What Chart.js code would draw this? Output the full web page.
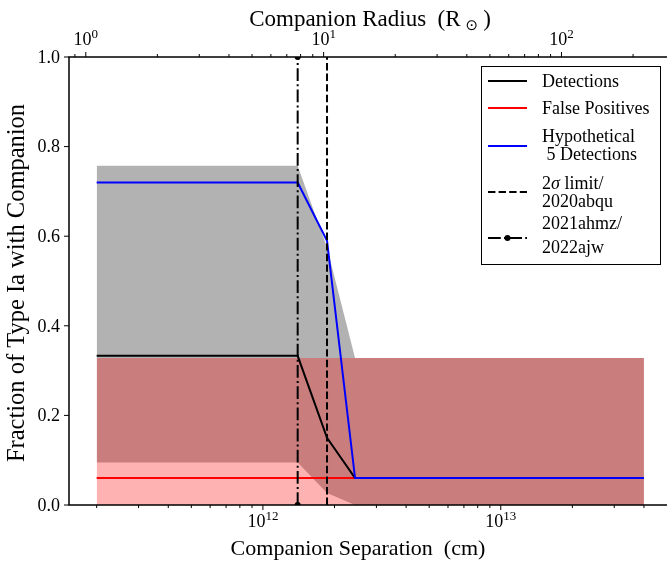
<!DOCTYPE html>
<html>
<head>
<meta charset="utf-8">
<script src="https://cdn.jsdelivr.net/npm/chart.js@4.4.1/dist/chart.umd.min.js"></script>
<style>
  html, body { margin: 0; padding: 0; background: #fff; }
  #wrap { width: 667px; height: 561px; }
</style>
</head>
<body>
<div id="wrap"><canvas id="fraction" width="667" height="561"></canvas></div>
<script>
(function () {
  'use strict';

  var FONT = "'Liberation Serif', 'Times New Roman', serif";

  // ── Data ──────────────────────────────────────────────────────────────
  // companion separation grid (cm), shared by every curve and band
  var separation     = [2e11, 1.4e12, 1.86e12, 2.44e12, 4e13];
  var detections     = [0.333, 0.333, 0.15, 0.06, 0.06];
  var falsePositives = [0.06, 0.06, 0.06, 0.06, 0.06];
  var hypothetical   = [0.72, 0.72, 0.59, 0.06, 0.06];
  // envelope around the detection fraction
  var detectHigh     = [0.757, 0.757, 0.575, 0.328, 0.328];
  var detectLow      = [0.095, 0.095, 0.027, 0, 0];
  // envelope around the false-positive fraction
  var fpHigh         = [0.328, 0.328, 0.328, 0.328, 0.328];

  var limit2Sigma    = 1.86e12;   // 2σ limit / 2020abqu
  var limitObserved  = 1.4e12;    // 2021ahmz / 2022ajw

  // cm of separation per solar radius on the top axis
  var SEP_PER_RADIUS = 1.8e11;
  var SEP_MIN = 1.53e11, SEP_MAX = 5e13;

  var sepMajorTicks     = [1e12, 1e13];
  var sepMajorLabels    = [['10', '12'], ['10', '13']];
  var radiusMajorTicks  = [1, 10, 100];
  var radiusMajorLabels = [['10', '0'], ['10', '1'], ['10', '2']];
  var fracTicks         = [0, 0.2, 0.4, 0.6, 0.8, 1.0];
  var fracLabels        = ['0.0', '0.2', '0.4', '0.6', '0.8', '1.0'];

  // ── Helpers ───────────────────────────────────────────────────────────
  function _pts(ys) {
    return separation.map(function (s, i) { return { x: s, y: ys[i] }; });
  }

  function _vertical(x) {
    return [{ x: x, y: 0 }, { x: x, y: 1 }];
  }

  // 2..9 x 10^n inside (lo, hi)
  function _minorLogTicks(lo, hi) {
    var out = [];
    var e0 = Math.floor(Math.log10(lo)), e1 = Math.ceil(Math.log10(hi));
    for (var e = e0; e <= e1; e++) {
      for (var m = 2; m <= 9; m++) {
        var v = m * Math.pow(10, e);
        if (v > lo && v < hi) out.push(v);
      }
    }
    return out;
  }

  function _drawPower(ctx, x, y, pair) {
    ctx.font = '18px ' + FONT;
    var wb = ctx.measureText(pair[0]).width;
    ctx.font = '13px ' + FONT;
    var we = ctx.measureText(pair[1]).width;
    var left = x - (wb + we) / 2;
    ctx.textAlign = 'left';
    ctx.textBaseline = 'alphabetic';
    ctx.font = '18px ' + FONT;
    ctx.fillText(pair[0], left, y);
    ctx.font = '13px ' + FONT;
    ctx.fillText(pair[1], left + wb, y - 7);
  }

  function _line(ctx, x0, y0, x1, y1) {
    ctx.beginPath();
    ctx.moveTo(x0, y0);
    ctx.lineTo(x1, y1);
    ctx.stroke();
  }

  // ── Axes: spines, ticks, labels, titles ───────────────────────────────
  var axesDecor = {
    id: 'axesDecor',
    afterDraw: function (chart) {
      var ctx = chart.ctx, a = chart.chartArea;
      var sx = chart.scales.x, st = chart.scales.xTop, sy = chart.scales.y;
      ctx.save();
      ctx.strokeStyle = '#000';
      ctx.fillStyle = '#000';

      // the right spine sits just past the canvas edge
      ctx.lineWidth = 1.5;
      ctx.beginPath();
      ctx.moveTo(a.right + 2, a.top);
      ctx.lineTo(a.left, a.top);
      ctx.lineTo(a.left, a.bottom);
      ctx.lineTo(a.right + 2, a.bottom);
      ctx.stroke();

      ctx.lineWidth = 1;
      // y ticks
      ctx.font = '18px ' + FONT;
      ctx.textAlign = 'right';
      ctx.textBaseline = 'middle';
      fracTicks.forEach(function (v, i) {
        var py = sy.getPixelForValue(v);
        _line(ctx, a.left - 5, py, a.left, py);
        ctx.fillText(fracLabels[i], a.left - 9, py + 1);
      });

      // bottom axis ticks
      sepMajorTicks.forEach(function (v, i) {
        var px = sx.getPixelForValue(v);
        _line(ctx, px, a.bottom, px, a.bottom + 5);
        _drawPower(ctx, px, a.bottom + 22, sepMajorLabels[i]);
      });
      _minorLogTicks(SEP_MIN, SEP_MAX).forEach(function (v) {
        var px = sx.getPixelForValue(v);
        _line(ctx, px, a.bottom, px, a.bottom + 3);
      });

      // top axis ticks
      radiusMajorTicks.forEach(function (v, i) {
        var px = st.getPixelForValue(v);
        _line(ctx, px, a.top, px, a.top - 5);
        _drawPower(ctx, px, a.top - 12, radiusMajorLabels[i]);
      });
      _minorLogTicks(st.min, st.max).forEach(function (v) {
        var px = st.getPixelForValue(v);
        _line(ctx, px, a.top, px, a.top - 3);
      });

      // bottom title
      ctx.textAlign = 'center';
      ctx.textBaseline = 'alphabetic';
      ctx.font = '22px ' + FONT;
      ctx.fillText('Companion Separation  (cm)', 358, 555);

      // top title with the solar symbol as a subscript
      var head = 'Companion Radius  (R', tail = ')';
      ctx.font = '23px ' + FONT;
      var wHead = ctx.measureText(head).width, wTail = ctx.measureText(tail).width;
      ctx.font = '15px DejaVu Sans';
      var wSun = ctx.measureText('\u2299').width;
      var x0 = 370 - (wHead + wSun + 10 + wTail) / 2;
      ctx.textAlign = 'left';
      ctx.font = '23px ' + FONT;
      ctx.fillText(head, x0, 26);
      ctx.font = '15px DejaVu Sans';
      ctx.fillText('\u2299', x0 + wHead + 5, 30);
      ctx.font = '23px ' + FONT;
      ctx.fillText(tail, x0 + wHead + wSun + 10, 26);

      // y title
      ctx.save();
      ctx.translate(18, 283);
      ctx.rotate(-Math.PI / 2);
      ctx.textAlign = 'center';
      ctx.textBaseline = 'middle';
      ctx.font = '24.5px ' + FONT;
      ctx.fillText('Fraction of Type Ia with Companion', 0, 0);
      ctx.restore();

      _drawLegend(ctx);
      ctx.restore();
    }
  };

  // ── Legend ────────────────────────────────────────────────────────────
  var legendRows = [
    { color: '#000000', dash: [],                  dot: false, handleY: 81,  lines: [['Detections', 87]] },
    { color: '#ff0000', dash: [],                  dot: false, handleY: 108, lines: [['False Positives', 114]] },
    { color: '#0000ff', dash: [],                  dot: false, handleY: 146, lines: [['Hypothetical', 141.5], [' 5 Detections', 160]] },
    { color: '#000000', dash: [7.4, 3.2],          dot: false, handleY: 192, lines: [['2\u03c3 limit/', 189], ['2020abqu', 207]] },
    { color: '#000000', dash: [12.8, 3.2, 2, 3.2], dot: true,  handleY: 238, lines: [['2021ahmz/', 229], ['2022ajw', 253]] }
  ];

  function _drawLegend(ctx) {
    var bx = 481, by = 66, bw = 179, bh = 198;
    ctx.fillStyle = '#fff';
    ctx.fillRect(bx, by, bw, bh);
    ctx.strokeStyle = '#000';
    ctx.lineWidth = 1;
    ctx.strokeRect(bx + 0.5, by + 0.5, bw, bh);

    legendRows.forEach(function (row) {
      ctx.strokeStyle = row.color;
      ctx.lineWidth = 2;
      ctx.setLineDash(row.dash);
      _line(ctx, 488, row.handleY, 527, row.handleY);
      ctx.setLineDash([]);
      if (row.dot) {
        ctx.fillStyle = row.color;
        ctx.beginPath();
        ctx.arc(507.5, row.handleY, 3, 0, Math.PI * 2);
        ctx.fill();
      }
      ctx.fillStyle = '#000';
      ctx.textAlign = 'left';
      ctx.textBaseline = 'alphabetic';
      row.lines.forEach(function (ln) {
        var text = ln[0];
        var i = text.indexOf('\u03c3');
        ctx.font = '18px ' + FONT;
        if (i < 0) {
          ctx.fillText(text, 542, ln[1]);
          return;
        }
        // sigma set in italic, like math text
        var x = 542;
        ctx.fillText(text.slice(0, i), x, ln[1]);
        x += ctx.measureText(text.slice(0, i)).width;
        ctx.font = 'italic 18px ' + FONT;
        ctx.fillText('\u03c3', x, ln[1]);
        x += ctx.measureText('\u03c3').width;
        ctx.font = '18px ' + FONT;
        ctx.fillText(text.slice(i + 1), x, ln[1]);
      });
    });
  }

  // ── Chart ─────────────────────────────────────────────────────────────
  var lineBase = { borderWidth: 2, pointRadius: 0, tension: 0, fill: false, xAxisID: 'x', yAxisID: 'y' };
  var bandBase = { borderWidth: 0, borderColor: 'rgba(0,0,0,0)', pointRadius: 0, tension: 0, xAxisID: 'x', yAxisID: 'y' };

  function _ds(base, extra) { return Object.assign({}, base, extra); }

  new Chart(document.getElementById('fraction').getContext('2d'), {
    type: 'line',
    data: {
      datasets: [
        _ds(lineBase, { label: 'Hypothetical 5 Detections', data: _pts(hypothetical), borderColor: '#0000ff', order: 1 }),
        _ds(lineBase, { label: 'Detections', data: _pts(detections), borderColor: '#000000', order: 2 }),
        _ds(lineBase, { label: 'False Positives', data: _pts(falsePositives), borderColor: '#ff0000', order: 3 }),
        _ds(lineBase, { label: '2σ limit/2020abqu', data: _vertical(limit2Sigma), borderColor: '#000000',
                        borderDash: [7.4, 3.2], order: 0 }),
        _ds(lineBase, { label: '2021ahmz/2022ajw', data: _vertical(limitObserved), borderColor: '#000000',
                        borderDash: [12.8, 3.2, 2, 3.2], pointRadius: 3, pointBorderWidth: 0,
                        pointBackgroundColor: '#000000', order: 0 }),
        _ds(bandBase, { label: 'detections high', data: _pts(detectHigh), fill: '+1',
                        backgroundColor: 'rgba(0,0,0,0.3)', order: 6 }),
        _ds(bandBase, { label: 'detections low', data: _pts(detectLow), fill: false, order: 6 }),
        _ds(bandBase, { label: 'false positives high', data: _pts(fpHigh), fill: 'origin',
                        backgroundColor: 'rgba(255,0,0,0.3)', order: 5 })
      ]
    },
    options: {
      responsive: false,
      devicePixelRatio: 1,
      animation: false,
      events: [],
      layout: { autoPadding: false, padding: { left: 69, right: 0, top: 57, bottom: 56 } },
      plugins: { legend: { display: false }, tooltip: { enabled: false } },
      scales: {
        x:    { type: 'logarithmic', position: 'bottom', min: SEP_MIN, max: SEP_MAX, display: false },
        xTop: { type: 'logarithmic', position: 'top', min: SEP_MIN / SEP_PER_RADIUS,
                max: SEP_MAX / SEP_PER_RADIUS, display: false },
        y:    { type: 'linear', min: 0, max: 1, display: false }
      }
    },
    plugins: [axesDecor]
  });
}());
</script>
</body>
</html>
